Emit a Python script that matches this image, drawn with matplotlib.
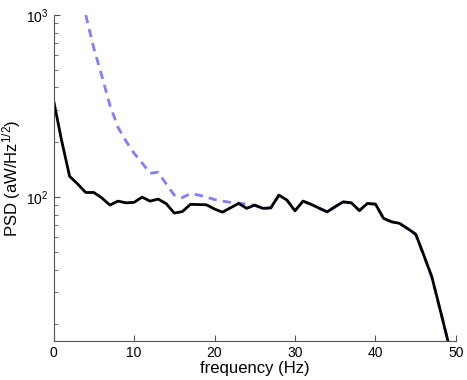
import numpy as np
import matplotlib
matplotlib.use("Agg")
import matplotlib.pyplot as plt

plt.rcParams['font.family'] = ['Liberation Sans', 'DejaVu Sans']
plt.rcParams['mathtext.fontset'] = 'custom'
plt.rcParams['mathtext.rm'] = 'Liberation Sans'
plt.rcParams['mathtext.it'] = 'Liberation Sans'

# frequencies (Hz)
freq = np.arange(0, 50)

# black trace
psd_black = [341, 205, 130, 118, 106, 106, 99, 90.4, 95, 93,
             93.5, 100, 95, 97.5, 92, 81.7, 83.2, 91.2, 91, 90.7,
             86, 82.7, 87.4, 92.3, 86.7, 90.4, 86.7, 87.4, 102.5, 96.3,
             84, 95.1, 91.2, 87, 83, 88.7, 94.2, 93, 84.3, 92.3,
             91.5, 76.4, 73.2, 71.7, 67.1, 62.6, 48, 36.5, 24.4, 16.2]

# blue dashed trace (starts at 4 Hz)
freq_blue = np.arange(4, 50)
psd_blue = [1000, 658, 463, 320, 242, 203, 174, 154, 135, 137,
            118, 102.5, 99.4, 104.5, 102.6, 100, 96.9, 95, 93.5, 92.7,
            91.5, 90, 86.2, 87, 102, 96, 84.3, 95, 91, 86.5,
            82.6, 88.3, 93.6, 92.6, 84.3, 92, 91.2, 76.2, 73, 71.5,
            66.8, 62, 47.6, 36.2, 24.3, 16.2]

fig = plt.figure(figsize=(4.67, 3.80), dpi=100)
ax = fig.add_axes([0.1146, 0.1026, 0.8618, 0.8579])

ax.plot(freq_blue, psd_blue, color='#8080ff', lw=2, ls=(0, (3, 2.2)))
ax.plot(freq, psd_black, color='black', lw=2)

ax.set_yscale('log')
ax.set_xlim(0, 50)
ax.set_ylim(16.2, 1000)
ax.set_xticks([0, 10, 20, 30, 40, 50])
ax.set_yticks([100, 1000])
ax.set_yticklabels(['$10^2$', '$10^3$'])

for s in ['top', 'right']:
    ax.spines[s].set_visible(False)
for s in ['left', 'bottom']:
    ax.spines[s].set_color('#555555')
    ax.spines[s].set_linewidth(0.8)

ax.tick_params(which='both', direction='in', color='#555555', labelsize=10)
ax.tick_params(which='major', length=4)
ax.tick_params(which='minor', length=3)
ax.tick_params(axis='x', which='minor', bottom=False)

ax.set_xlabel('frequency (Hz)', fontsize=12, labelpad=1)
ax.set_ylabel('PSD (aW/Hz$^{1/2}$)', fontsize=12, labelpad=2)

fig.savefig('out.png', dpi=100)
